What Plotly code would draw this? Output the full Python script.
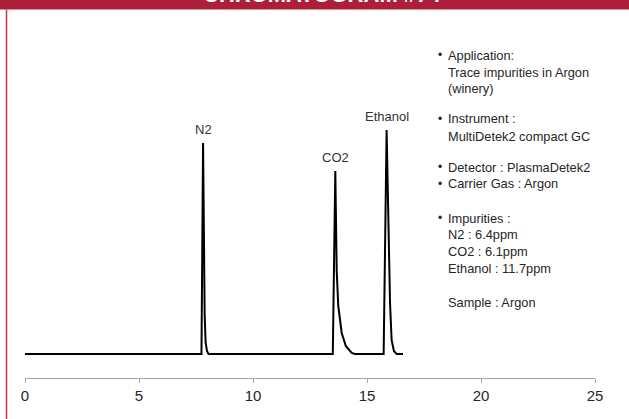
import plotly.graph_objects as go

# chromatogram trace (time in min, signal above baseline)
time_min = [0.0,
            7.74, 7.81, 7.84, 7.88, 7.92, 7.98, 8.05,
            13.50, 13.61, 13.64, 13.67, 13.74, 13.89, 14.07, 14.33, 14.47,
            15.73, 15.86, 15.93, 16.01, 16.08, 16.18, 16.30,
            16.58]
signal = [0,
          0, 211, 120, 40, 12, 3, 0,
          0, 183, 134, 84, 48, 21, 8, 1, 0,
          0, 224, 134, 51, 14, 3, 0,
          0]

peak_names = ["N2", "CO2", "Ethanol"]
peak_times = [7.81, 13.61, 15.86]
peak_heights = [211, 183, 224]

x_ticks = [0, 5, 10, 15, 20, 25]

title_text = "CHROMATOGRAM #74"

info_lines = [
    ("•", "Application:"),
    ("", "Trace impurities in Argon"),
    ("", "(winery)"),
    ("•", "Instrument :"),
    ("", "MultiDetek2 compact GC"),
    ("•", "Detector : PlasmaDetek2"),
    ("•", "Carrier Gas : Argon"),
    ("•", "Impurities :"),
    ("", "N2 : 6.4ppm"),
    ("", "CO2 : 6.1ppm"),
    ("", "Ethanol : 11.7ppm"),
    ("", "Sample : Argon"),
]
info_y_px = [55, 72, 88, 119, 136, 167, 184, 218, 234, 251, 268, 302]

W, H = 629, 419
ML, MR, MT, MB = 25, W - 595, 40, H - 378
PW, PH = W - ML - MR, H - MT - MB
FONT = "Liberation Sans, Arial, sans-serif"


def px_x(px):
    # page pixel -> paper x
    return (px - ML) / PW


def px_y(py):
    # page pixel -> paper y
    return 1 - (py - MT) / PH


fig = go.Figure()
fig.add_trace(go.Scatter(x=time_min, y=signal, mode="lines",
                         line=dict(color="black", width=2), hoverinfo="skip"))

# peak labels
for name, t, h in zip(peak_names, peak_times, peak_heights):
    fig.add_annotation(x=t, y=h, text=name, showarrow=False, yanchor="bottom",
                       yshift=4, font=dict(size=13, color="#333333", family=FONT))

# info block on the right
for (bullet, txt), py in zip(info_lines, info_y_px):
    if bullet:
        fig.add_annotation(xref="paper", yref="paper", x=px_x(440), y=px_y(py),
                           text=bullet, showarrow=False, xanchor="center", yanchor="middle",
                           font=dict(size=12, color="#262626", family=FONT))
    fig.add_annotation(xref="paper", yref="paper", x=px_x(446), y=px_y(py),
                       text=txt, showarrow=False, xanchor="left", yanchor="middle",
                       font=dict(size=12.8, color="#262626", family=FONT))

# title bar (mostly cut off at the top) and left border
fig.add_shape(type="rect", xref="paper", yref="paper",
              x0=px_x(0), x1=px_x(W), y0=px_y(9.5), y1=px_y(0),
              fillcolor="#AD1E38", line_width=0, layer="above")
fig.add_shape(type="line", xref="paper", yref="paper",
              x0=px_x(6.5), x1=px_x(6.5), y0=px_y(9.5), y1=px_y(H),
              line=dict(color="#D0344F", width=1.5), layer="above")
fig.add_annotation(xref="paper", yref="paper", x=px_x(322), y=px_y(-5.5),
                   text="<b>" + title_text + "</b>", showarrow=False,
                   xanchor="center", yanchor="middle",
                   font=dict(size=22, color="white", family=FONT))

fig.update_xaxes(range=[0, 25], tickvals=x_ticks, showgrid=False, zeroline=False,
                 showline=True, linecolor="#A6A6A6", linewidth=1,
                 ticks="outside", ticklen=4, tickcolor="#A6A6A6",
                 tickfont=dict(size=15, color="#262626", family=FONT))
fig.update_yaxes(visible=False, range=[-24, 314])

fig.update_layout(width=W, height=H, margin=dict(l=ML, r=MR, t=MT, b=MB),
                  paper_bgcolor="white", plot_bgcolor="white", showlegend=False,
                  font=dict(family=FONT))

# drop the default 8px page margin so the figure fills the window
fig.write_html("out.html", config={"displayModeBar": False},
               post_script="document.body.style.margin = '0';")
